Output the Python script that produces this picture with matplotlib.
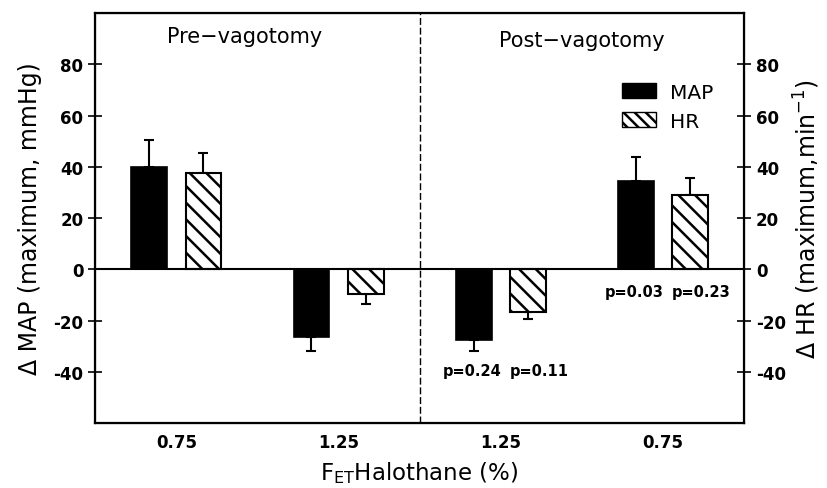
import numpy as np
import matplotlib
matplotlib.use("Agg")
import matplotlib.pyplot as plt
from matplotlib.patches import Patch

# values (Δ from baseline, mean and one-sided SE)
dose_labels = ["0.75", "1.25", "1.25", "0.75"]
map_mean = [40, -26.5, -27.5, 34.5]
map_err = [10.5, 5.5, 4.5, 9.5]
hr_mean = [37.5, -9.5, -16.5, 29]
hr_err = [8, 4, 3, 6.5]
map_p = ["", "", "p=0.24", "p=0.03"]
hr_p = ["", "", "p=0.11", "p=0.23"]
y_ticks = [-40, -20, 0, 20, 40, 60, 80]

plt.rcParams['font.family'] = ['DejaVu Sans']
plt.rcParams['hatch.linewidth'] = 1.8

x = np.arange(len(dose_labels))
width = 0.22
off = 0.167


def one_sided(mean, err):
    mean = np.asarray(mean)
    err = np.asarray(err)
    lower = np.where(mean < 0, err, 0)
    upper = np.where(mean >= 0, err, 0)
    return [lower, upper]


fig = plt.figure(figsize=(8.27, 4.89), dpi=100)
ax = fig.add_axes([0.115, 0.133, 0.785, 0.838])

ax.bar(x - off, map_mean, width, color='black', edgecolor='black', linewidth=1.2, zorder=3)
ax.bar(x + off, hr_mean, width, color='white', edgecolor='black', linewidth=1.5,
       hatch='\\\\', zorder=3)
ax.errorbar(x - off, map_mean, yerr=one_sided(map_mean, map_err), fmt='none',
            ecolor='black', elinewidth=1.5, capsize=3.5, capthick=1.5, zorder=2)
ax.errorbar(x + off, hr_mean, yerr=one_sided(hr_mean, hr_err), fmt='none',
            ecolor='black', elinewidth=1.5, capsize=3.5, capthick=1.5, zorder=2)

ax.axhline(0, color='black', linewidth=1.5, zorder=4)
ax.axvline(1.5, color='black', linewidth=1.0, linestyle=(0, (5, 2)))

# p values under the post-vagotomy bars
for i in range(len(x)):
    if map_p[i]:
        ypos = -39.5 if map_mean[i] < 0 else -8.5
        ax.text(x[i] - off - 0.01, ypos, map_p[i], ha='center', va='center',
                fontsize=10.5, fontweight='bold')
        ax.text(x[i] + off + 0.07, ypos, hr_p[i], ha='center', va='center',
                fontsize=10.5, fontweight='bold')

ax.text(0.42, 91, "Pre\u2212vagotomy", ha='center', va='center', fontsize=15)
ax.text(2.5, 89.5, "Post\u2212vagotomy", ha='center', va='center', fontsize=15)

ax.set_xlim(-0.5, 3.5)
ax.set_ylim(-60, 100)
ax.set_xticks(x)
ax.set_xticklabels(dose_labels, fontsize=12, fontweight='bold')
ax.tick_params(axis='x', length=0, pad=7)
ax.set_yticks(y_ticks)
ax.set_yticklabels([str(t) for t in y_ticks], fontsize=12, fontweight='bold')
ax.tick_params(axis='y', direction='inout', length=10, width=1.2)
ax.set_ylabel("\u0394 MAP (maximum, mmHg)", fontsize=17, labelpad=8)
ax.set_xlabel("F$_{\\mathregular{ET}}$Halothane (%)", fontsize=16.5, labelpad=6)
for s in ax.spines.values():
    s.set_linewidth(1.6)

ax2 = ax.twinx()
ax2.set_ylim(ax.get_ylim())
ax2.set_yticks(y_ticks)
ax2.set_yticklabels([str(t) for t in y_ticks], fontsize=12, fontweight='bold')
ax2.tick_params(axis='y', direction='inout', length=10, width=1.2)
ax2.set_ylabel("\u0394 HR (maximum,min$^{\\mathregular{-1}}$)", fontsize=17, labelpad=4)

handles = [Patch(facecolor='black', edgecolor='black', label='MAP'),
           Patch(facecolor='white', edgecolor='black', hatch='\\\\\\', label='HR')]
ax.legend(handles=handles, loc='upper left', bbox_to_anchor=(0.783, 0.875),
          frameon=False, fontsize=14.5, handlelength=1.7, handleheight=0.8,
          labelspacing=0.5, handletextpad=0.7)

fig.savefig("out.png", dpi=100)
